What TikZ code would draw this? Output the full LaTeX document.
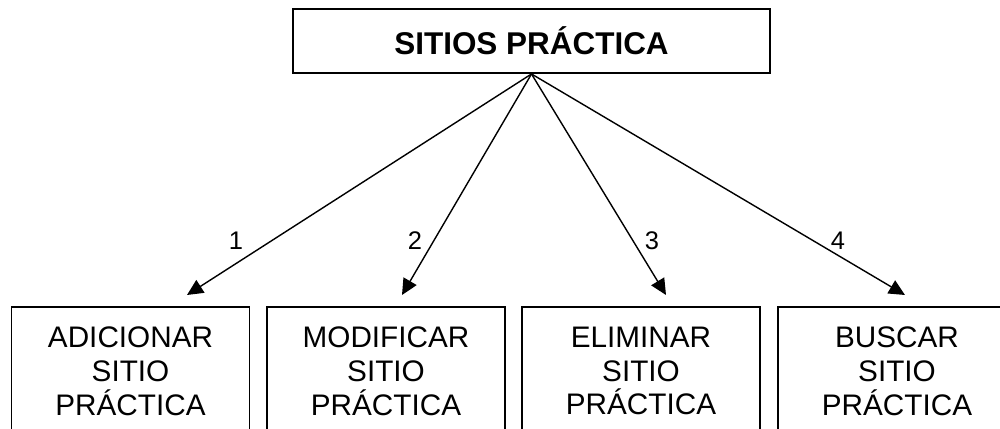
\documentclass[tikz,border=0pt]{standalone}
\usepackage{fontspec}
\setmainfont{Liberation Sans}
\usepackage{tikz}
\usetikzlibrary{arrows.meta, calc, positioning}
\tikzset{
  opbox/.style={draw,line width=1.1pt,minimum width=4.76cm,minimum height=2.56cm,
    anchor=north,align=center,inner sep=0pt,font=\fontsize{16.9}{19.3}\selectfont},
  link/.style={-{Triangle[length=0.32cm,width=0.3cm]},line width=0.8pt},
  num/.style={font=\fontsize{14.5}{16}\selectfont,inner sep=0pt}
}
\begin{document}
\begin{tikzpicture}
  \useasboundingbox (0,0) rectangle (20,-8.58);
  \node[draw,line width=1.1pt,minimum width=9.54cm,minimum height=1.28cm,
    font=\fontsize{17.9}{22}\bfseries] (top) at (10.63,-0.82) {SITIOS PRÁCTICA};
  \node[opbox] (add) at (2.61,-6.12) {ADICIONAR\\SITIO\\PRÁCTICA};
  \node[opbox] (mod) at (7.72,-6.12) {MODIFICAR\\SITIO\\PRÁCTICA};
  \node[opbox] (del) at (12.82,-6.12) {ELIMINAR\\SITIO\\PRÁCTICA};
  \node[opbox] (find) at (17.94,-6.12) {BUSCAR\\SITIO\\PRÁCTICA};
  % arrow tips above the boxes
  \coordinate (t1) at (3.74,-5.9);
  \coordinate (t2) at (8.04,-5.9);
  \coordinate (t3) at (13.32,-5.9);
  \coordinate (t4) at (18.1,-5.9);
  \foreach \t in {t1,t2,t3,t4}
    \draw[link] (top.south) -- (\t);
  \node[num] (n1) at (4.72,-4.82) {1};
  \node[num] (n2) at (8.3,-4.82) {2};
  \node[num] (n3) at (13.04,-4.82) {3};
  \node[num] (n4) at (16.76,-4.82) {4};
\end{tikzpicture}
\end{document}
